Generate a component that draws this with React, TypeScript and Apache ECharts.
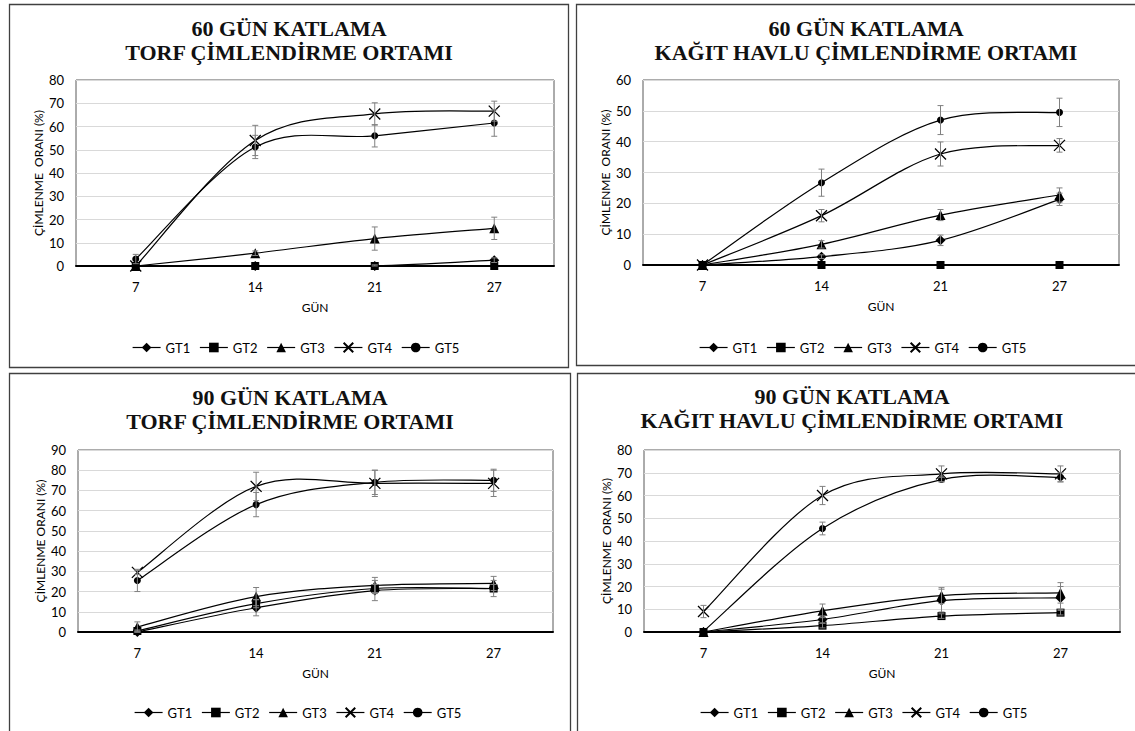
import React, { useEffect, useRef } from 'react';
import * as echarts from 'echarts';

// ---------- DATA ----------
const categories = ['7', '14', '21', '27'];
const seriesNames = ['GT1', 'GT2', 'GT3', 'GT4', 'GT5'];

// 60 GÜN KATLAMA – TORF
const t60GT1 = [0, 0, 0, 2.5];
const t60GT2 = [0, 0, 0, 0];
const t60GT3 = [0, 5.5, 11.8, 16.2];
const t60GT4 = [0, 54, 65.4, 66.6];
const t60GT5 = [3, 51.2, 56, 61.5];
const t60ErrGT1 = [0, 0, 0.5, 1];
const t60ErrGT2 = [0, 0, 0, 0];
const t60ErrGT3 = [0, 1, 5, 4.8];
const t60ErrGT4 = [0, 6.5, 4.8, 4.3];
const t60ErrGT5 = [2, 5, 4.8, 5.7];

// 60 GÜN KATLAMA – KAĞIT HAVLU
const k60GT1 = [0, 2.7, 8, 21.3];
const k60GT2 = [0, 0, 0, 0];
const k60GT3 = [0, 6.7, 16.2, 22.7];
const k60GT4 = [0, 16, 36, 38.8];
const k60GT5 = [0, 26.7, 47, 49.5];
const k60ErrGT1 = [0, 0.6, 1.7, 2];
const k60ErrGT2 = [0, 0, 0, 0];
const k60ErrGT3 = [0, 1.2, 1.8, 2.3];
const k60ErrGT4 = [0, 2, 3.9, 2.2];
const k60ErrGT5 = [0, 4.4, 4.7, 4.6];

// 90 GÜN KATLAMA – TORF
const t90GT1 = [0, 12, 20.5, 21.5];
const t90GT2 = [0.5, 14, 21.5, 21.5];
const t90GT3 = [2.5, 17.5, 23, 24];
const t90GT4 = [29.5, 72, 73.5, 73.5];
const t90GT5 = [25.5, 63, 74, 75];
const t90ErrGT1 = [0.5, 4, 5, 4];
const t90ErrGT2 = [0.5, 2, 2, 2];
const t90ErrGT3 = [2.5, 4.5, 4, 3.5];
const t90ErrGT4 = [1, 7, 6.5, 6.5];
const t90ErrGT5 = [5.5, 6, 6, 5.5];

// 90 GÜN KATLAMA – KAĞIT HAVLU
const k90GT1 = [0, 5.5, 13.8, 15];
const k90GT2 = [0, 2.8, 7, 8.5];
const k90GT3 = [0, 9.3, 16, 17.2];
const k90GT4 = [9, 60, 69.5, 69.5];
const k90GT5 = [0.3, 45.5, 67, 68];
const k90ErrGT1 = [0, 1.5, 5, 5];
const k90ErrGT2 = [0, 1, 1, 1];
const k90ErrGT3 = [0, 3, 3.5, 4.5];
const k90ErrGT4 = [2.7, 4, 3.5, 3.5];
const k90ErrGT5 = [0, 2.8, 1, 2];

const yTickMax = [80, 60, 90, 80];
const titleLine1 = ['60 GÜN KATLAMA', '60 GÜN KATLAMA', '90 GÜN KATLAMA', '90 GÜN KATLAMA'];
const titleLine2 = [
  'TORF ÇİMLENDİRME ORTAMI',
  'KAĞIT HAVLU ÇİMLENDİRME ORTAMI',
  'TORF ÇİMLENDİRME ORTAMI',
  'KAĞIT HAVLU ÇİMLENDİRME ORTAMI',
];
const yAxisNames = ['ÇİMLENME  ORANI (%)', 'ÇİMLENME  ORANI (%)', 'ÇİMLENME ORANI (%)', 'ÇİMLENME  ORANI (%)'];
const xAxisName = 'GÜN';

const panelValues = [
  [t60GT1, t60GT2, t60GT3, t60GT4, t60GT5],
  [k60GT1, k60GT2, k60GT3, k60GT4, k60GT5],
  [t90GT1, t90GT2, t90GT3, t90GT4, t90GT5],
  [k90GT1, k90GT2, k90GT3, k90GT4, k90GT5],
];
const panelErrors = [
  [t60ErrGT1, t60ErrGT2, t60ErrGT3, t60ErrGT4, t60ErrGT5],
  [k60ErrGT1, k60ErrGT2, k60ErrGT3, k60ErrGT4, k60ErrGT5],
  [t90ErrGT1, t90ErrGT2, t90ErrGT3, t90ErrGT4, t90ErrGT5],
  [k90ErrGT1, k90ErrGT2, k90ErrGT3, k90ErrGT4, k90ErrGT5],
];

// ---------- LAYOUT ----------
const layouts = [
  { grid: { left: 76, top: 80, width: 478, height: 186 }, box: [9.5, 4.5, 559, 363], titleX: 289, titleY: [28, 52], legendLeft: 132, legendTop: 341 },
  { grid: { left: 643, top: 80, width: 476, height: 185 }, box: [576.5, 4.5, 620, 361], titleX: 866, titleY: [28, 52], legendLeft: 699, legendTop: 341 },
  { grid: { left: 78, top: 450, width: 475, height: 182 }, box: [9.5, 373.5, 561, 400], titleX: 290, titleY: [397, 421], legendLeft: 134, legendTop: 706 },
  { grid: { left: 644, top: 450, width: 476, height: 182 }, box: [577.5, 373.5, 620, 400], titleX: 852, titleY: [396, 420], legendLeft: 700, legendTop: 706 },
];

const symbolDefs = [
  { symbol: 'diamond', size: 10 },
  { symbol: 'rect', size: 8 },
  { symbol: 'triangle', size: 10 },
  { symbol: 'path://M0,0L10,10M10,0L0,10', size: 11 },
  { symbol: 'circle', size: 7 },
];

const FONT = 'Lato, "Noto Sans", sans-serif';
const SERIF = '"Liberation Serif", "DejaVu Serif", serif';
const LINE_W = 1.2;

function buildOption() {
  const grids: any[] = [];
  const xAxes: any[] = [];
  const yAxes: any[] = [];
  const legends: any[] = [];
  const series: any[] = [];
  const graphics: any[] = [];

  layouts.forEach((lay, p) => {
    grids.push({ ...lay.grid, show: true, borderColor: '#595959', borderWidth: 1 });
    xAxes.push({
      type: 'category',
      gridIndex: p,
      data: categories,
      boundaryGap: true,
      axisLine: { show: true, lineStyle: { color: '#000', width: 2 } },
      axisTick: { show: false },
      axisLabel: { margin: 14, fontFamily: FONT, fontSize: 13, color: '#000' },
      name: xAxisName,
      nameLocation: 'middle',
      nameGap: 35,
      nameTextStyle: { fontFamily: FONT, fontSize: 12, color: '#000' },
      splitLine: { show: false },
    });
    yAxes.push({
      type: 'value',
      gridIndex: p,
      min: 0,
      max: yTickMax[p],
      interval: 10,
      axisLine: { show: false },
      axisTick: { show: false },
      axisLabel: { margin: 12, fontFamily: FONT, fontSize: 13, color: '#000' },
      splitLine: { show: true, lineStyle: { color: '#d9d9d9', width: 1 } },
      name: yAxisNames[p],
      nameLocation: 'middle',
      nameRotate: 90,
      nameGap: 32,
      nameTextStyle: { fontFamily: FONT, fontSize: 12, color: '#000' },
    });
    legends.push({
      data: seriesNames,
      left: lay.legendLeft,
      top: lay.legendTop,
      padding: 0,
      itemWidth: 28,
      itemHeight: 12,
      itemGap: 9,
      selectedMode: false,
      lineStyle: { color: '#000', width: LINE_W, opacity: 1 },
      textStyle: { fontFamily: FONT, fontSize: 13, color: '#000' },
    });

    seriesNames.forEach((name, s) => {
      const vals = panelValues[p][s];
      const errs = panelErrors[p][s];
      const sd = symbolDefs[s];
      const isX = s === 3;

      // smoothed curve (Catmull-Rom style Bezier through the points, via axis coords)
      series.push({
        type: 'custom',
        name: name + '-curve',
        xAxisIndex: p,
        yAxisIndex: p,
        data: vals.map((v, i) => [i, v]),
        encode: { x: 0, y: 1 },
        z: 2,
        silent: true,
        renderItem: (params: any, api: any) => {
          const i = params.dataIndex;
          const n = vals.length;
          if (i >= n - 1) return null;
          const pt = (j: number) => api.coord([j, vals[Math.max(0, Math.min(n - 1, j))]]);
          const p0 = i > 0 ? pt(i - 1) : pt(i);
          const p1 = pt(i);
          const p2 = pt(i + 1);
          const p3 = i + 2 < n ? pt(i + 2) : pt(i + 1);
          const t = 1 / 6;
          return {
            type: 'bezierCurve',
            shape: {
              x1: p1[0], y1: p1[1],
              x2: p2[0], y2: p2[1],
              cpx1: p1[0] + (p2[0] - p0[0]) * t,
              cpy1: p1[1] + (p2[1] - p0[1]) * t,
              cpx2: p2[0] - (p3[0] - p1[0]) * t,
              cpy2: p2[1] - (p3[1] - p1[1]) * t,
            },
            style: { stroke: '#000', lineWidth: LINE_W, fill: 'none' },
          };
        },
      });

      // markers
      series.push({
        type: 'line',
        name,
        xAxisIndex: p,
        yAxisIndex: p,
        data: vals,
        symbol: sd.symbol,
        symbolSize: sd.size,
        showAllSymbol: true,
        lineStyle: { color: '#000', width: LINE_W, opacity: 0 },
        itemStyle: isX
          ? { color: '#000', borderColor: '#000', borderWidth: 1.3 }
          : { color: '#000' },
        emphasis: { disabled: true },
        z: 3,
      });

      const errData: any[] = [];
      vals.forEach((v, i) => {
        if (errs[i] > 0) errData.push([i, Math.max(0, v - errs[i]), v + errs[i]]);
      });
      if (errData.length) {
        series.push({
          type: 'custom',
          name: name + '-err',
          xAxisIndex: p,
          yAxisIndex: p,
          data: errData,
          encode: { x: 0, y: [1, 2] },
          z: 4,
          silent: true,
          renderItem: (params: any, api: any) => {
            const x = api.value(0);
            const lo = api.coord([x, api.value(1)]);
            const hi = api.coord([x, api.value(2)]);
            const w = 3;
            const st = { stroke: '#808080', lineWidth: 1 };
            return {
              type: 'group',
              children: [
                { type: 'line', shape: { x1: lo[0], y1: lo[1], x2: hi[0], y2: hi[1] }, style: st },
                { type: 'line', shape: { x1: hi[0] - w, y1: hi[1], x2: hi[0] + w, y2: hi[1] }, style: st },
                { type: 'line', shape: { x1: lo[0] - w, y1: lo[1], x2: lo[0] + w, y2: lo[1] }, style: st },
              ],
            };
          },
        });
      }
    });

    graphics.push({
      type: 'rect',
      shape: { x: lay.box[0], y: lay.box[1], width: lay.box[2], height: lay.box[3] },
      style: { fill: 'none', stroke: '#404040', lineWidth: 1.3 },
      silent: true,
      z: 0,
    });
    [titleLine1[p], titleLine2[p]].forEach((txt, k) => {
      graphics.push({
        type: 'text',
        x: lay.titleX,
        y: lay.titleY[k],
        style: {
          text: txt,
          font: `bold 22px ${SERIF}`,
          fill: '#111',
          textAlign: 'center',
          textVerticalAlign: 'middle',
        },
        silent: true,
      });
    });
  });

  return {
    animation: false,
    backgroundColor: '#fff',
    grid: grids,
    xAxis: xAxes,
    yAxis: yAxes,
    legend: legends,
    series,
    graphic: graphics,
  };
}

export default function App() {
  const ref = useRef<HTMLDivElement>(null);
  useEffect(() => {
    if (!ref.current) return;
    const chart = echarts.init(ref.current, null, { renderer: 'svg' });
    chart.setOption(buildOption() as any);
    return () => chart.dispose();
  }, []);
  return (
    <div
      ref={ref}
      style={{ position: 'absolute', left: 0, top: 0, width: 1135, height: 731, background: '#fff' }}
    />
  );
}
